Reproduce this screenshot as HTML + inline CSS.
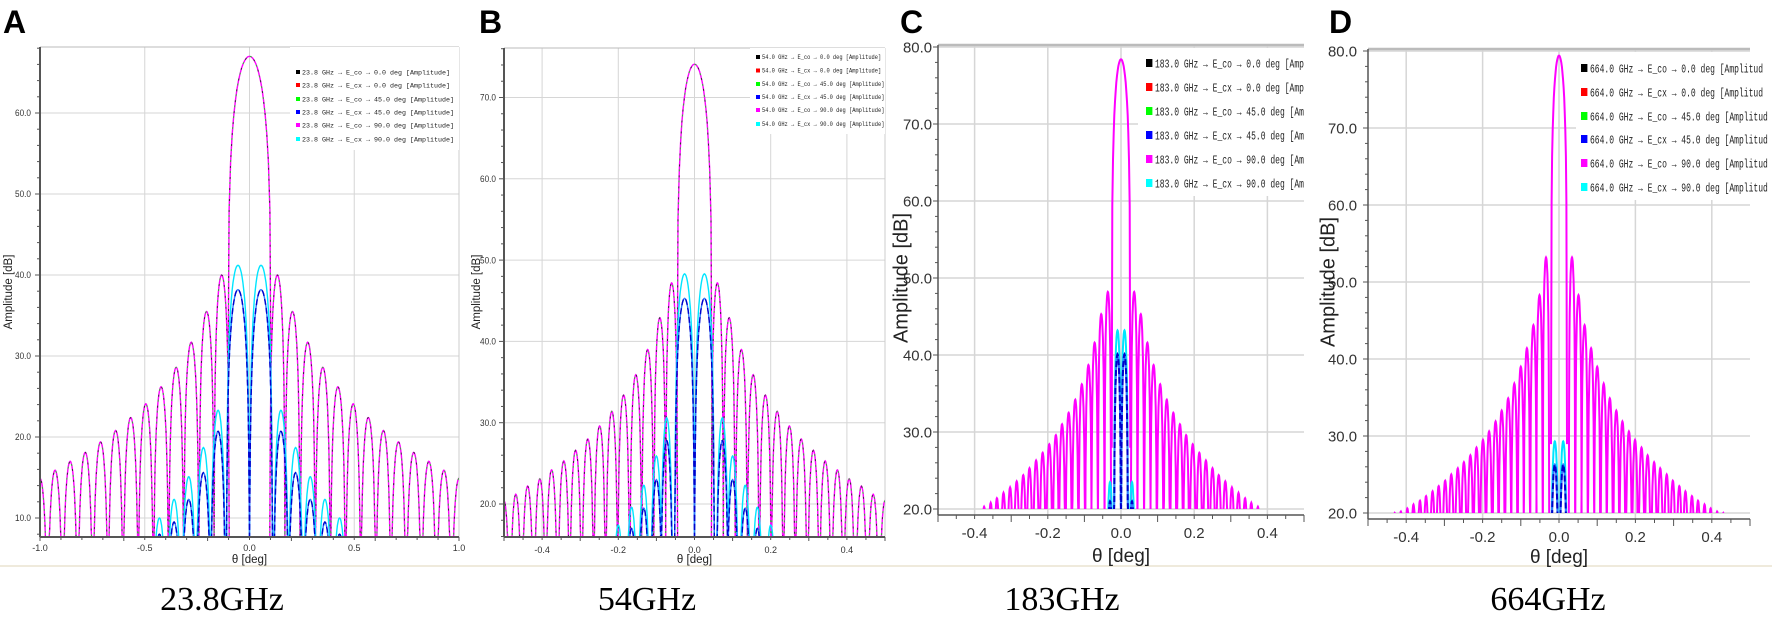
<!DOCTYPE html>
<html><head><meta charset="utf-8"><style>
html,body{margin:0;padding:0;background:#fff;width:1772px;height:623px;overflow:hidden}
svg{display:block}
</style></head><body>
<svg id="fig" xmlns="http://www.w3.org/2000/svg" width="1772" height="623" viewBox="0 0 1772 623"></svg>
<script>
// ---------- DATA ----------
// Panel A (23.8 GHz)
const aXTickLabels=["-1.0","-0.5","0.0","0.5","1.0"];
const aYTickLabels=["10.0","20.0","30.0","40.0","50.0","60.0"];
const aMainPeak=[67];
const aSidePos=[0.133,0.205,0.278,0.350,0.422,0.495,0.567,0.639,0.711,0.784,0.856,0.928,1.000];
const aSidePeak=[40,35.5,31.7,28.6,26.2,24.1,22.4,20.8,19.4,18.1,17.0,15.9,14.9];
const aCxPos=[0.055,0.15,0.22,0.29,0.36,0.43];
const aCx90=[41.2,23.3,18.7,15.1,12.3,10];
const aCx45=[38.2,20.7,15.6,12.3,9.5,8];
// Panel B (54 GHz)
const bXTickLabels=["-0.4","-0.2","0.0","0.2","0.4"];
const bYTickLabels=["20.0","30.0","40.0","50.0","60.0","70.0"];
const bMainPeak=[74.1];
const bSidePos=[0.060,0.091,0.123,0.154,0.186,0.217,0.249,0.280,0.312,0.343,0.375,0.406,0.438,0.469,0.500];
const bSidePeak=[47.2,42.9,39,35.9,33.4,31.4,29.6,28,26.6,25.3,24.2,23.1,22.2,21.2,20.4];
const bCxPos=[0.026,0.073,0.1,0.133,0.165,0.2];
const bCx90=[48.3,30.6,25.9,22.3,19.6,17.4];
const bCx45=[45.3,27.8,23,19.5,17,15];
// Panel C (183 GHz)
const cXTickLabels=["-0.4","-0.2","0.0","0.2","0.4"];
const cYTickLabels=["20.0","30.0","40.0","50.0","60.0","70.0","80.0"];
const cMainPeak=[78.4];
const cSidePos=[0.036,0.054,0.072,0.089,0.107,0.125,0.143,0.161,0.178,0.196,0.214,0.232,0.250,0.267,0.285,0.303,0.321,0.339,0.356,0.374];
const cSidePeak=[48.2,45.3,41.6,38.7,36.2,34.2,32.5,31,29.6,28.4,27.3,26.3,25.3,24.4,23.6,22.8,22.1,21.4,20.8,20.3];
const cCxPos=[0.0095,0.03];
const cCx90=[43.2,23.5];
const cCx45=[40.1,21];
// Panel D (664 GHz)
const dXTickLabels=["-0.4","-0.2","0.0","0.2","0.4"];
const dYTickLabels=["20.0","30.0","40.0","50.0","60.0","70.0","80.0"];
const dMainPeak=[79.4];
const dSidePos=[0.034,0.051,0.067,0.084,0.100,0.117,0.133,0.150,0.166,0.183,0.199,0.216,0.232,0.249,0.265,0.282,0.298,0.315,0.331,0.348,0.364,0.381,0.397,0.414,0.430];
const dSidePeak=[53.2,48.3,44.4,41.4,39,36.8,34.9,33.3,31.9,30.6,29.5,28.5,27.5,26.6,25.8,25,24.2,23.5,22.8,22.2,21.6,21.1,20.6,20.2,20.0];
const dCxPos=[0.011];
const dCx90=[29.3];
const dCx45=[26.3];
const legendLabels=["E_co → 0.0 deg","E_cx → 0.0 deg","E_co → 45.0 deg","E_cx → 45.0 deg","E_co → 90.0 deg","E_cx → 90.0 deg"];
const legendColors=["#000000","#ff0000","#00ff00","#0000ff","#ff00ff","#00ffff"];

// ---------- RENDER ----------
const NS="http://www.w3.org/2000/svg";
const svg=document.getElementById('fig');
function el(tag,attrs,parent){const e=document.createElementNS(NS,tag);for(const k in attrs)e.setAttribute(k,attrs[k]);(parent||svg).appendChild(e);return e;}

const panels=[
 {id:'a',letter:'A',lx:3,freq:'23.8',cap:'23.8GHz',capX:222,x0:40,x1:459,top:47,axisY:537,xmin:-1,xmax:1,yA:10,pyA:518,yB:60,pyB:113,floorY:537,
  xT:aXTickLabels,yT:aYTickLabels,main:aMainPeak,mainW:0.21,sp:aSidePos,sv:aSidePeak,sw:0.0723,cp:aCxPos,c90:aCx90,c45:aCx45,cw0:0.11,cw:0.072,
  small:true,ytRight:31,titleX:9,titleY:292,tickY:551,thetaY:563,lgX:296,lgY:[72,85,99,112,125,139],lgW:144,lgFont:6.5,lgBox:[290,47,169,103],sepX:[0,470],lw:1.4,overlay:true,ymMinor:2},
 {id:'b',letter:'B',lx:479,freq:'54.0',cap:'54GHz',capX:647,x0:504,x1:885,top:48,axisY:537,xmin:-0.5,xmax:0.5,yA:20,pyA:504,yB:70,pyB:97.5,floorY:537,
  xT:bXTickLabels,yT:bYTickLabels,main:bMainPeak,mainW:0.093,sp:bSidePos,sv:bSidePeak,sw:0.0315,cp:bCxPos,c90:bCx90,c45:bCx45,cw0:0.052,cw:0.0315,
  small:true,ytRight:496,titleX:477,titleY:292,tickY:553,thetaY:563,lgX:756,lgY:[57,70.5,84,97,110,124],lgW:116,lgFont:6,lgBox:[750,48,135,86],sepX:[470,900],lw:1.4,overlay:true,ymMinor:2},
 {id:'c',letter:'C',lx:900,freq:'183.0',cap:'183GHz',capX:1062,x0:938,x1:1304,top:45,axisY:515,xmin:-0.5,xmax:0.5,yA:20,pyA:509,yB:80,pyB:47,floorY:509,
  xT:cXTickLabels,yT:cYTickLabels,main:cMainPeak,mainW:0.051,sp:cSidePos,sv:cSidePeak,sw:0.0178,cp:cCxPos,c90:cCx90,c45:cCx45,cw0:0.019,cw:0.0178,
  small:false,ytRight:932,titleX:902,titleY:278,tickY:538,thetaY:562,lgX:1146,lgY:[63,87,111,135,159,183],lgW:173,lgFont:12,lgBox:[1138,48,166,148],sepX:[900,1176],lw:2,overlay:false,ymMinor:2},
 {id:'d',letter:'D',lx:1329,freq:'664.0',cap:'664GHz',capX:1548,x0:1368,x1:1750,top:49,axisY:519,xmin:-0.5,xmax:0.5,yA:20,pyA:513,yB:80,pyB:51,floorY:513,
  xT:dXTickLabels,yT:dYTickLabels,main:dMainPeak,mainW:0.042,sp:dSidePos,sv:dSidePeak,sw:0.0165,cp:dCxPos,c90:dCx90,c45:dCx45,cw0:0.02,cw:0.0165,
  small:false,ytRight:1357,titleX:1329,titleY:282,tickY:542,thetaY:563,lgX:1581,lgY:[68,92,116,139,163,187],lgW:173,lgFont:12,lgBox:[1576,52,196,148],sepX:[1176,1772],lw:2,overlay:false,ymMinor:2}
];

function lobePath(P,sx,sy,lobes){
  let d='';
  lobes.forEach(([c,peak,w])=>{
    const N=28;let first=true;
    for(let i=0;i<=N;i++){
      const t=-0.5+i/N;
      const cv=Math.max(Math.abs(Math.cos(Math.PI*t)),0.003);
      const v=peak+20*Math.log10(cv);
      const X=sx(c+t*w), Y=Math.min(sy(v),P.floorY+2);
      d+=(first?'M':'L')+X.toFixed(1)+' '+Y.toFixed(1);first=false;
    }
  });
  return d;
}

panels.forEach(P=>{
  const g=el('g',{});
  
  
  const sx=v=>P.x0+(v-P.xmin)/(P.xmax-P.xmin)*(P.x1-P.x0);
  const k=(P.pyA-P.pyB)/(P.yB-P.yA);
  const sy=v=>P.pyA-(v-P.yA)*k;
  const gridC='#d6d6d6';
  const sep=el('line',{x1:P.sepX[0],x2:P.sepX[1],y1:566,y2:566,stroke:'#efeadc','stroke-width':2},g);
  
  P.yT.forEach(s=>{const v=parseFloat(s);const y=sy(v);
    const l=el('line',{x1:P.x0,x2:P.x1,y1:y,y2:y,stroke:gridC,'stroke-width':P.small?1:1.5},g);
    });
  P.xT.forEach(s=>{const v=parseFloat(s);const x=sx(v);
    const l=el('line',{x1:x,x2:x,y1:P.top,y2:P.axisY,stroke:gridC,'stroke-width':P.small?1:1.5},g);
    });
  const tb=el('line',{x1:P.x0,x2:P.x1,y1:P.top,y2:P.top,stroke:'#bbbbbb','stroke-width':P.small?1:2.5},g);
  
  if(P.small){const rb=el('line',{x1:P.x1,x2:P.x1,y1:P.top,y2:P.axisY,stroke:'#cccccc','stroke-width':1},g);
    }
  const cid='clip-'+P.id;
  const cp=el('clipPath',{id:cid},g);
  el('rect',{x:P.x0,y:P.top,width:P.x1-P.x0,height:P.floorY-P.top},cp);
  const sg=el('g',{'clip-path':'url(#'+cid+')'},g);
  
  const co=[[0,P.main[0],P.mainW]];
  P.sp.forEach((c,i)=>{co.push([c,P.sv[i],P.sw]);co.push([-c,P.sv[i],P.sw]);});
  const cx=(arr)=>{const r=[];P.cp.forEach((c,i)=>{const w=i===0?P.cw0:P.cw;r.push([c,arr[i],w]);r.push([-c,arr[i],w]);});return r;};
  const dCo=lobePath(P,sx,sy,co);
  const s90=el('path',{d:dCo,fill:'none',stroke:'#ff00ff','stroke-width':P.lw},sg);
  
  if(P.overlay){
    const s0=el('path',{d:dCo,fill:'none',stroke:'#333','stroke-width':1,'stroke-dasharray':'2 9'},sg);
    
    const s45=el('path',{d:dCo,fill:'none',stroke:'#33bb33','stroke-width':1,'stroke-dasharray':'2 9','stroke-dashoffset':5},sg);
    
  }
  const x90=el('path',{d:lobePath(P,sx,sy,cx(P.c90)),fill:'none',stroke:'#00e5ff','stroke-width':P.lw},sg);
  
  const dx45=lobePath(P,sx,sy,cx(P.c45));
  const x45=el('path',{d:dx45,fill:'none',stroke:'#2f7bff','stroke-width':P.lw},sg);
  
  const x45b=el('path',{d:dx45,fill:'none',stroke:'#0000cc','stroke-width':P.lw,'stroke-dasharray':'6 3'},sg);
  
  const lg=el('g',{},g);
  
  el('rect',{x:P.lgBox[0],y:P.lgBox[1],width:P.lgBox[2],height:P.lgBox[3],fill:'#fff'},lg);
  const lcid='lclip-'+P.id;
  const lcp=el('clipPath',{id:lcid},lg);
  el('rect',{x:P.lgBox[0],y:40,width:(P.small?P.lgBox[2]+20:(P.x1-P.lgBox[0]+(P.id==='d'?22:0))),height:170},lcp);
  const lgi=el('g',{'clip-path':'url(#'+lcid+')'},lg);
  legendLabels.forEach((lab,i)=>{
    const y=P.lgY[i];const sq=P.small?4:8;
    const e=el('g',{},lgi);
    
    el('rect',{x:P.lgX,y:y-sq/2,width:sq*(P.small?1:0.8),height:sq,fill:legendColors[i]},e);
    const full=P.freq+' GHz → '+lab+(P.small?' [Amplitude]':' [Amplitud');
    const t=el('text',{x:P.lgX+(P.small?6:9),y:y+P.lgFont*0.36,'font-family':'Liberation Mono, monospace','font-size':P.lgFont,fill:'#222',textLength:P.lgW*(full.length/36),lengthAdjust:'spacingAndGlyphs'},e);
    t.textContent=full;
  });
  const ya=el('line',{x1:P.x0,x2:P.x0,y1:P.top,y2:P.axisY,stroke:'#555','stroke-width':P.small?2:1.5},g);
  
  const xa=el('line',{x1:P.x0,x2:P.x1,y1:P.axisY,y2:P.axisY,stroke:'#555','stroke-width':P.small?2:1.5},g);
  
  for(let v=Math.ceil(P.yA-20);v<=P.yB+20;v+=P.ymMinor){const y=sy(v);if(y<P.top-1||y>P.axisY)continue;
    el('line',{x1:P.x0-(v%10===0?5:3),x2:P.x0,y1:y,y2:y,stroke:'#555','stroke-width':1},g);}
  for(let i=0;i<=20;i++){const v=P.xmin+i*(P.xmax-P.xmin)/20;const x=sx(v);
    el('line',{x1:x,x2:x,y1:P.axisY,y2:P.axisY+(i%4===0?(P.small?4:7):(P.small?3:4)),stroke:'#555','stroke-width':1},g);}
  const fs=P.small?9:15;
  P.yT.forEach(s=>{const t=el('text',{x:P.ytRight,y:sy(parseFloat(s))+fs*0.35,'text-anchor':'end','font-family':'Liberation Sans, sans-serif','font-size':fs,fill:'#333',textLength:P.small?16:29,lengthAdjust:'spacingAndGlyphs'},g);
    t.textContent=s;});
  P.xT.forEach(s=>{const t=el('text',{x:sx(parseFloat(s)),y:P.tickY,'text-anchor':'middle','font-family':'Liberation Sans, sans-serif','font-size':fs,fill:'#333'},g);
    t.textContent=s;});
  const tf=P.small?11.5:20;
  const yt=el('text',{x:P.titleX,y:P.titleY,'text-anchor':'middle','dominant-baseline':'middle','font-family':'Liberation Sans, sans-serif','font-size':tf,fill:'#222',transform:'rotate(-90 '+P.titleX+' '+P.titleY+')'},g);
  yt.textContent='Amplitude [dB]';
  const xt=el('text',{x:sx(0),y:P.thetaY,'text-anchor':'middle','font-family':'Liberation Sans, sans-serif','font-size':P.small?11.5:19,fill:'#222'},g);
  xt.textContent='θ [deg]';
  const L=el('text',{x:P.lx,y:33,'font-family':'Liberation Sans, sans-serif','font-weight':'bold','font-size':32,fill:'#000'},g);
  L.textContent=P.letter;
  const C=el('text',{x:P.capX,y:610,'text-anchor':'middle','font-family':'Liberation Serif, serif','font-size':34,fill:'#000'},g);
  C.textContent=P.cap;
});
</script>
</body></html>
